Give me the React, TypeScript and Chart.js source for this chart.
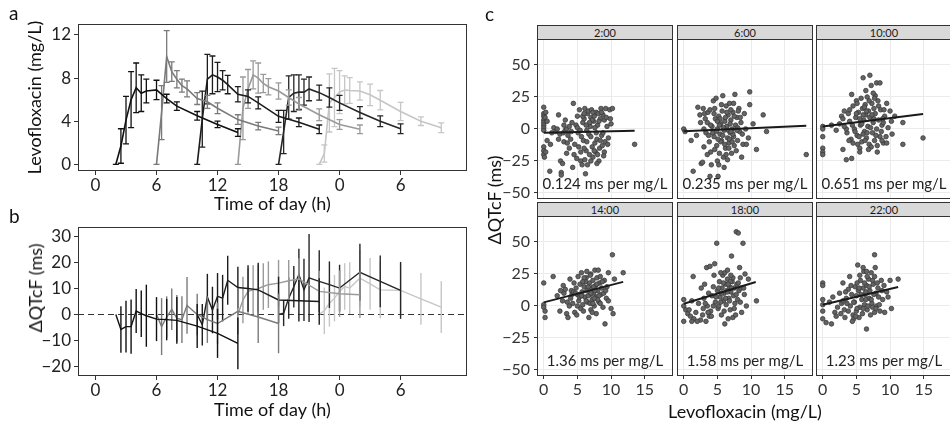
import React, { useEffect, useRef } from "react";
import { Chart, registerables } from "chart.js";
Chart.register(...registerables);

const FONT = "Lato, 'DejaVu Sans', sans-serif";

// ---------- panel a / b : time course ----------
const doseLabels = ["2:00", "6:00", "10:00", "14:00", "18:00", "22:00"];
const seriesColors = ["#111111", "#7a7a7a", "#1c1c1c", "#9a9a9a", "#262626", "#c6c6c6"];

const time2 = [2, 2.5, 3, 3.5, 4, 4.5, 5, 6, 7, 8, 10, 12, 14];
const time6 = [6, 6.5, 7, 7.5, 8, 8.5, 9, 10, 11, 12, 14, 16, 18];
const time10 = [10, 10.5, 11, 11.5, 12, 12.5, 13, 14, 15, 16, 18, 20, 22];
const time14 = [14, 14.5, 15, 15.5, 16, 16.5, 17, 18, 19, 20, 22, 24, 26];
const time18 = [18, 18.5, 19, 19.5, 20, 20.5, 21, 22, 23, 24, 26, 28, 30];
const time22 = [22, 22.5, 23, 23.5, 24, 24.5, 25, 26, 27, 28, 30, 32, 34];

const levo2 = [0, 1.7, 4.1, 6.0, 7.1, 6.6, 6.8, 6.9, 6.1, 5.4, 4.5, 3.7, 2.95];
const levo2Sd = [0, 1.6, 2.2, 2.6, 2.3, 1.7, 1.1, 0.9, 0.4, 0.4, 0.4, 0.3, 0.35];
const levo6 = [0, 4.8, 10.0, 8.6, 7.9, 7.3, 7.0, 6.1, 5.8, 5.2, 4.15, 3.55, 3.1];
const levo6Sd = [0, 2.5, 2.4, 0.9, 0.8, 0.6, 0.75, 0.55, 0.6, 0.5, 0.45, 0.35, 0.35];
const levo10 = [0, 4.2, 7.9, 8.3, 8.1, 7.8, 7.4, 6.5, 6.3, 5.7, 4.45, 3.9, 3.25];
const levo10Sd = [0, 2.6, 2.3, 1.75, 1.35, 0.9, 0.85, 0.7, 0.6, 0.55, 0.55, 0.4, 0.4];
const levo14 = [0, 5.2, 7.0, 8.3, 8.0, 7.5, 7.2, 6.8, 6.2, 5.6, 4.6, 3.7, 3.25];
const levo14Sd = [0, 2.9, 1.8, 1.3, 1.4, 0.85, 0.75, 0.75, 0.7, 0.6, 0.55, 0.45, 0.4];
const levo18 = [0, 3.0, 6.2, 6.6, 6.7, 6.7, 7.0, 6.65, 6.2, 5.7, 4.8, 4.0, 3.3];
const levo18Sd = [0, 2.0, 2.0, 1.7, 1.6, 1.2, 1.1, 0.7, 0.9, 0.7, 0.55, 0.5, 0.45];
const levo22 = [0, 1.0, 5.7, 6.2, 6.7, 6.9, 6.85, 6.8, 6.45, 5.95, 4.9, 4.0, 3.4];
const levo22Sd = [0, 0.8, 2.7, 2.7, 2.0, 1.3, 1.2, 0.85, 1.0, 0.9, 0.85, 0.4, 0.45];

const qt2 = [0, -5.8, -4.7, -4.7, 1.3, 0.3, -0.5, -1.8, -2.0, -2.3, -4.5, -7.3, -11.2];
const qt2Sd = [0, 9, 10, 10.5, 8.5, 9, 12, 8.5, 8, 9, 8.5, 9.5, 10];
const qt6 = [0, -4.7, -1, 2, -1.5, -2, 3.5, 0, -2, -3.5, 1.2, -1, -3.5];
const qt6Sd = [0, 11, 8, 8, 9, 9, 11, 8, 9, 8, 9, 10, 11.5];
const qt10 = [0, -4, 6.7, 1.7, 7, 6.3, 13.2, 10.4, 10, 9.5, 5.6, 5.3, 5.0];
const qt10Sd = [0, 8, 9, 9, 9, 9, 9.5, 8, 9, 10.5, 9, 8, 9];
const qt14 = [0, 5.6, 8.9, 9.5, 10, 10.8, 11.5, 12.1, 13, 13.7, 8.9, 8, 7.6];
const qt14Sd = [0, 9, 9, 9.5, 9, 9, 9, 9, 8, 8, 8, 9, 9];
const qt18 = [0, 0.5, 6.3, 10.7, 15.4, 9.5, 14.1, 12.8, 11.5, 10.2, 16.3, 12.8, 9.3];
const qt18Sd = [0, 5, 8, 8, 10, 12, 17, 12, 9, 9, 11, 10, 11];
const qt22 = [0, 1.4, 4.3, 6.3, 8.9, 10.8, 10.2, 14, 11.8, 9.5, 9.3, 6, 2.8];
const qt22Sd = [0, 9, 9, 9, 8, 9, 10, 11, 10, 11, 10, 10, 10];

const seriesTimes = [time2, time6, time10, time14, time18, time22];
const levoMeans = [levo2, levo6, levo10, levo14, levo18, levo22];
const levoSds = [levo2Sd, levo6Sd, levo10Sd, levo14Sd, levo18Sd, levo22Sd];
const qtMeans = [qt2, qt6, qt10, qt14, qt18, qt22];
const qtSds = [qt2Sd, qt6Sd, qt10Sd, qt14Sd, qt18Sd, qt22Sd];

const timeTicks = [0, 6, 12, 18, 24, 30];
const timeTickLabels = ["0", "6", "12", "18", "0", "6"];
const levoTicks = [0, 4, 8, 12];
const levoTickLabels = ["0", "4", "8", "12"];
const qtTimeTicks = [-20, -10, 0, 10, 20, 30];
const qtTimeTickLabels = ["\u221220", "\u221210", "0", "10", "20", "30"];

// ---------- panel c : exposure-response ----------
const facetTitles = ["2:00", "6:00", "10:00", "14:00", "18:00", "22:00"];
const slopes = [0.124, 0.235, 0.651, 1.36, 1.58, 1.23];
const intercepts = [-3, -1.8, 2, 2.8, 1.8, 1];
const fitEnds = [13.5, 18.2, 14.9, 11.8, 10.7, 11.2];
const concTicks = [0, 5, 10, 15];
const concTickLabels = ["0", "5", "10", "15"];
const qtTicks = [-50, -25, 0, 25, 50];
const qtTickLabels = ["\u221250", "\u221225", "0", "25", "50"];

const pts2 = [[0,17],[0,12],[0,10],[0,7],[0,5],[0,3],[0,1],[0,-1],[0,-14],[0,-17],[0,-20],[0.1,-22],[0.2,9],[0.3,13],[0.5,6],[0.3,-18],[0.9,-33],[1.5,1],[1.8,-2],[2.2,11],[2.4,-4],[2.6,-34],[2.6,-36],[2.5,-25],[2.8,-27],[2.9,-3],[3.2,-1],[3.4,0],[3.0,-10],[3.5,-11],[3.8,2],[3.6,-5],[4.1,-2],[4.4,20],[4.3,-30],[4.6,-12],[4.8,3],[5.0,1],[5.1,-3],[5.3,15],[5.5,-25],[5.6,-6],[5.8,5],[5.9,-9],[6.0,8],[6.1,16],[6.2,-35],[6.3,-17],[6.4,-1],[6.5,12],[6.6,14],[6.7,-4],[6.8,-20],[6.9,2],[7.0,9],[7.1,15],[7.2,-14],[7.3,-22],[7.4,6],[7.5,10],[7.6,-11],[7.7,-18],[7.8,13],[7.9,-8],[8.0,3],[8.1,12],[8.2,-25],[8.3,-15],[8.4,8],[8.5,16],[8.6,-5],[8.7,-13],[8.8,11],[9.0,7],[9.1,-10],[9.2,16],[9.4,2],[9.6,-7],[9.8,15],[10.2,16],[10.0,4],[13.5,-12],[6.0,-15],[7.0,-25],[5.5,-18],[4.0,-8],[3.2,7],[2.0,0],[1.2,-3],[6.5,-28],[7.5,-17],[8.0,-20],[5.8,10],[7.2,7],[8.8,-3],[9.5,-12],[3.8,-15],[4.5,-20],[5.2,-14],[6.4,-10],[7.0,-6],[7.8,-3],[8.4,-9],[9.0,-18],[5.0,10],[6.0,12],[7.3,13],[8.2,6],[9.3,9],[4.2,5],[3.0,3],[6.8,5],[7.6,1],[8.9,-21],[5.7,-28],[4.9,-23],[6.1,-24],[7.9,-27],[3.4,-19],[2.2,-8],[1.0,-12],[0.5,-9],[8.6,13],[9.9,8],[6.3,3],[5.4,-1]];
const pts6 = [[0,0],[0.2,-2],[1.1,-9],[1.4,-33],[1.9,-5],[2.1,17],[2.4,11],[2.6,-27],[2.8,-26],[2.9,16],[3.1,12],[3.3,-3],[3.5,5],[3.6,13],[3.8,-10],[3.9,15],[3.9,-37],[4.1,-28],[4.2,2],[4.4,22],[4.5,-6],[4.7,8],[4.8,24],[4.9,-13],[5.0,0],[5.1,-37],[5.2,10],[5.3,-19],[5.4,-4],[5.5,4],[5.6,-9],[5.7,14],[5.8,26],[5.9,-22],[6.0,-1],[6.1,6],[6.2,-15],[6.3,18],[6.4,2],[6.5,-7],[6.6,11],[6.7,-11],[6.8,20],[6.9,-3],[7.0,7],[7.1,-19],[7.2,0],[7.3,13],[7.4,-6],[7.6,27],[7.7,3],[7.8,-17],[7.9,9],[8.0,-9],[8.2,16],[8.3,-2],[8.5,5],[8.6,-22],[8.8,-12],[9.0,12],[9.2,0],[9.6,-7],[9.8,19],[9.8,29],[10.3,4],[10.8,-16],[11.8,11],[12.3,-2],[18.2,-20],[5.0,-25],[6.0,-30],[4.0,-18],[3.0,-14],[6.5,-24],[7.5,-13],[5.5,-10],[4.5,12],[6.2,9],[7.0,15],[5.8,-5],[6.8,-8],[4.8,-2],[5.3,3],[6.6,-1],[3.5,-20],[7.3,-4],[8.0,1],[3.2,8],[4.3,-3],[4.6,16],[5.1,-8],[5.6,19],[6.1,-12],[6.4,13],[6.9,4],[7.2,-10],[7.5,10],[7.9,-1],[8.4,9],[8.7,-4],[9.3,-12],[3.7,-5],[4.0,3],[5.4,8],[5.9,1],[6.7,-15],[7.4,20],[8.1,14],[4.6,-16],[5.2,-28],[3.0,0],[2.5,5],[6.3,-20],[7.0,-2],[5.0,6]];
const pts10 = [[0,2],[0,0],[0,-6],[0,-15],[0,-18],[0,-20],[1.3,3],[2.0,-1],[2.5,4],[2.8,10],[3.0,-16],[3.2,14],[3.5,-24],[3.6,-3],[3.8,12],[4.0,6],[4.2,-8],[4.3,27],[4.3,-23],[4.5,18],[4.7,0],[4.9,9],[5.0,22],[5.1,-5],[5.3,13],[5.5,-15],[5.5,-18],[5.6,3],[5.7,24],[5.8,-10],[5.9,16],[6.0,40],[6.1,7],[6.2,-2],[6.3,19],[6.4,11],[6.5,-7],[6.6,25],[6.7,2],[6.8,14],[6.9,-12],[7.0,42],[7.0,9],[7.2,34],[7.3,20],[7.4,-3],[7.5,5],[7.6,16],[7.7,-9],[7.8,12],[8.0,36],[8.0,0],[8.1,-18],[8.2,22],[8.3,7],[8.5,36],[8.5,-6],[8.6,15],[8.8,3],[9.0,-11],[9.2,10],[9.5,20],[9.5,-11],[9.7,1],[10.0,14],[10.3,-4],[10.7,10],[11.9,5],[11.9,-12],[14.9,-7],[3.0,8],[5.2,-12],[6.0,-4],[7.2,-14],[8.8,-9],[4.5,-11],[6.4,30],[7.8,26],[5.5,8],[9.0,5],[3.5,0],[6.8,-16],[7.5,28],[3.2,2],[4.0,15],[4.8,-2],[5.0,12],[5.4,-6],[6.2,17],[6.6,-3],[6.9,22],[7.1,1],[7.6,8],[7.9,-5],[8.3,18],[8.7,-2],[9.1,15],[9.4,-6],[6.0,11],[5.8,4],[7.3,11],[8.1,-13],[4.4,3],[6.5,14],[7.7,24],[5.1,20],[3.9,-9],[6.3,-9],[8.9,8],[10.2,6]];
const pts14 = [[0,1],[0,-1],[0,18],[0.2,-4],[0.2,-9],[1.4,23],[2.0,8],[2.4,-4],[2.8,4],[2.9,16],[3.0,10],[3.4,-6],[3.6,-9],[3.9,21],[4.0,6],[4.1,12],[4.3,2],[4.6,-5],[4.8,14],[4.9,-7],[5.0,9],[5.1,23],[5.2,4],[5.4,17],[5.6,26],[5.7,11],[5.8,1],[6.0,15],[6.1,7],[6.3,22],[6.4,12],[6.5,3],[6.7,-9],[6.8,18],[6.9,9],[7.0,25],[7.1,14],[7.2,5],[7.3,20],[7.4,10],[7.5,0],[7.6,28],[7.7,16],[7.8,7],[7.9,22],[8.0,12],[8.1,28],[8.2,3],[8.3,18],[8.5,9],[8.6,14],[8.8,-1],[9.0,20],[9.1,-14],[9.3,6],[9.6,26],[9.6,4],[10.0,-2],[10.2,40],[10.3,-6],[10.5,21],[11.8,26],[5.5,-2],[6.2,19],[7.0,-3],[3.2,13],[4.5,18],[6.6,8],[7.4,15],[8.4,23],[5.3,7],[6.9,2],[8.9,10],[7.8,-6],[4.2,9],[3.5,3],[4.4,11],[5.0,0],[5.6,8],[6.0,22],[6.3,4],[6.6,15],[7.0,10],[7.3,2],[7.6,12],[7.9,17],[8.2,8],[8.4,2],[8.7,19],[9.2,12],[5.8,19],[6.9,24],[7.2,-5],[8.0,5],[4.7,10],[5.9,-4],[6.4,27],[7.5,6],[9.4,15],[3.8,0],[2.5,12]];
const pts18 = [[0,0],[0,5],[0,-12],[0.3,-3],[0.6,-6],[1.0,-8],[1.2,4],[1.4,23],[1.5,-10],[1.8,-5],[2.2,2],[2.5,-11],[2.6,14],[2.8,-7],[3.0,6],[3.1,17],[3.3,-12],[3.4,30],[3.5,0],[3.7,10],[3.9,31],[4.0,-4],[4.2,8],[4.4,15],[4.6,33],[4.7,3],[4.9,49],[5.0,12],[5.1,-2],[5.3,19],[5.4,7],[5.6,-7],[5.7,14],[5.8,24],[5.9,4],[6.0,10],[6.1,26],[6.1,-14],[6.2,17],[6.3,1],[6.4,12],[6.5,21],[6.6,-10],[6.7,6],[6.8,15],[6.9,-3],[7.0,11],[7.1,39],[7.2,19],[7.3,-9],[7.4,8],[7.5,14],[7.6,2],[7.8,58],[7.9,17],[8.0,5],[8.1,57],[8.2,12],[8.3,30],[8.4,22],[8.5,14],[8.6,-5],[8.8,49],[9.0,9],[9.3,0],[9.6,21],[10.8,4],[2.0,-12],[3.8,-8],[4.5,24],[5.5,26],[6.5,28],[7.7,-7],[5.2,0],[6.9,19],[3.2,2],[4.1,-8],[4.8,7],[5.2,14],[5.5,3],[5.9,18],[6.2,6],[6.5,11],[6.8,4],[7.1,14],[7.3,22],[7.5,-2],[7.8,9],[8.1,18],[8.4,3],[8.9,14],[6.0,-4],[6.6,17],[7.0,24],[5.6,10],[4.4,0],[3.6,-5],[2.9,-2],[1.2,-12],[0.8,-3],[9.1,25]];
const pts22 = [[0,18],[0,16],[0,5],[0,1],[0,-4],[0,-10],[0.5,-13],[1.0,3],[1.3,-14],[1.5,7],[1.8,-5],[2.2,-1],[2.5,10],[2.8,2],[3.0,18],[3.2,-3],[3.3,-9],[3.5,6],[3.8,13],[4.0,23],[4.1,0],[4.3,9],[4.5,-7],[4.6,-10],[4.7,3],[4.8,15],[5.0,8],[5.0,-4],[5.2,32],[5.3,12],[5.5,-1],[5.6,20],[5.8,5],[5.9,-6],[6.0,14],[6.1,27],[6.2,1],[6.3,9],[6.5,27],[6.5,-18],[6.5,16],[6.6,-3],[6.8,21],[6.9,6],[7.0,12],[7.1,-7],[7.2,26],[7.3,2],[7.5,17],[7.7,40],[7.7,23],[7.7,-5],[7.9,10],[8.0,0],[8.2,14],[8.5,-4],[8.7,20],[8.9,5],[9.2,-5],[9.5,11],[9.7,7],[10.0,20],[10.2,-2],[11.2,21],[4.4,-12],[5.4,-9],[6.4,5],[3.6,2],[7.4,-1],[8.3,7],[2.0,-8],[6.0,30],[5.1,18],[3.0,4],[3.8,-4],[4.2,16],[4.6,3],[5.1,-2],[5.4,14],[5.7,9],[6.0,-2],[6.2,18],[6.4,11],[6.7,0],[6.9,15],[7.2,5],[7.4,20],[7.6,9],[7.9,-2],[8.1,18],[8.4,1],[8.8,12],[9.1,16],[5.5,24],[4.9,-8],[6.6,23],[7.8,30],[3.4,11],[2.7,-6]];
const facetPoints = [pts2, pts6, pts10, pts14, pts18, pts22];

// ---------- plugins ----------
const framePlugin = {
  id: "frame",
  afterDraw(chart: any, _a: any, opts: any) {
    const { ctx, chartArea } = chart;
    const l = Math.round(chartArea.left), t = Math.round(chartArea.top);
    const r = Math.round(chartArea.right), b = Math.round(chartArea.bottom);
    ctx.save();
    ctx.strokeStyle = opts.color || "#333";
    ctx.lineWidth = 1;
    ctx.strokeRect(l + 0.5, t + 0.5, r - l - 1, b - t - 1);
    ctx.restore();
  },
};

const errorBarPlugin = {
  id: "errbars",
  afterDatasetDraw(chart: any, args: any, opts: any) {
    const ds = chart.data.datasets[args.index];
    if (!ds.errors) return;
    const ys = chart.scales.y;
    const { ctx } = chart;
    const cap = opts.cap || 0;
    ctx.save();
    ctx.strokeStyle = ds.borderColor;
    ctx.lineWidth = opts.width || 1;
    args.meta.data.forEach((pt: any, j: number) => {
      const v = ds.data[j].y;
      const e = ds.errors[j];
      const x = pt.x;
      const y1 = ys.getPixelForValue(v - e);
      const y2 = ys.getPixelForValue(v + e);
      ctx.beginPath();
      ctx.moveTo(x, y1);
      ctx.lineTo(x, y2);
      if (cap) {
        ctx.moveTo(x - cap, y1);
        ctx.lineTo(x + cap, y1);
        ctx.moveTo(x - cap, y2);
        ctx.lineTo(x + cap, y2);
      }
      ctx.stroke();
    });
    ctx.restore();
  },
};

const refLinePlugin = {
  id: "refline",
  beforeDatasetsDraw(chart: any, _a: any, opts: any) {
    if (opts.value === undefined) return;
    const { ctx, chartArea } = chart;
    const y = Math.round(chart.scales.y.getPixelForValue(opts.value)) + 0.5;
    ctx.save();
    ctx.strokeStyle = "#333";
    ctx.lineWidth = 1.2;
    ctx.setLineDash([6, 4]);
    ctx.beginPath();
    ctx.moveTo(chartArea.left, y);
    ctx.lineTo(chartArea.right, y);
    ctx.stroke();
    ctx.restore();
  },
};

const noteTextPlugin = {
  id: "note",
  afterDatasetsDraw(chart: any, _a: any, opts: any) {
    if (!opts.text) return;
    const { ctx, chartArea } = chart;
    const y = chart.scales.y.getPixelForValue(opts.value);
    ctx.save();
    ctx.fillStyle = "#222";
    ctx.font = `15px ${FONT}`;
    ctx.textAlign = "center";
    ctx.textBaseline = "middle";
    ctx.fillText(opts.text, (chartArea.left + chartArea.right) / 2, y);
    ctx.restore();
  },
};

function setTicks(values: number[]) {
  return (scale: any) => {
    scale.ticks = values.map((v) => ({ value: v }));
  };
}
function labelFor(values: number[], labels: string[]) {
  return (v: any) => labels[values.indexOf(Number(v))] ?? "";
}
function fixSize(prop: "width" | "height", size: number) {
  return (s: any) => {
    s[prop] = size;
    s.paddingTop = 0;
    s.paddingBottom = 0;
    s.paddingLeft = 0;
    s.paddingRight = 0;
  };
}

// ---------- configs ----------
function timeCourseConfig(which: "a" | "b"): any {
  const means = which === "a" ? levoMeans : qtMeans;
  const sds = which === "a" ? levoSds : qtSds;
  const yTicks = which === "a" ? levoTicks : qtTimeTicks;
  const yLabels = which === "a" ? levoTickLabels : qtTimeTickLabels;
  const datasets = doseLabels.map((lab, i) => ({
    label: lab,
    data: seriesTimes[i].map((t, j) => ({ x: t, y: means[i][j] })),
    errors: sds[i],
    borderColor: seriesColors[i],
    backgroundColor: seriesColors[i],
    borderWidth: which === "a" ? 1.6 : 1.4,
    pointRadius: 0,
    tension: 0,
  }));
  const tickFont = { family: FONT, size: 17 };
  const titleFont = { family: FONT, size: 18 };
  return {
    type: "line",
    data: { datasets },
    plugins: [framePlugin, errorBarPlugin, refLinePlugin],
    options: {
      animation: false,
      responsive: false,
      events: [],
      layout: { autoPadding: false, padding: { left: 0, top: which === "a" ? 24 : 12, right: 13, bottom: 0 } },
      plugins: {
        legend: { display: false },
        tooltip: { enabled: false },
        frame: { color: "#333" },
        errbars: { cap: which === "a" ? 3 : 0, width: which === "a" ? 1.3 : 1.4 },
        refline: which === "b" ? { value: 0 } : {},
      },
      scales: {
        x: {
          type: "linear",
          min: -1.72,
          max: 36.53,
          afterBuildTicks: setTicks(timeTicks),
          afterFit: fixSize("height", which === "a" ? 44 : 45),
          ticks: { callback: labelFor(timeTicks, timeTickLabels), font: tickFont, color: "#222", padding: 0, maxRotation: 0, autoSkip: false },
          grid: { drawOnChartArea: false, drawTicks: true, tickLength: 4, tickColor: "#333", color: "#333" },
          border: { display: false },
          title: { display: true, text: "Time of day (h)", font: titleFont, color: "#111", padding: { top: 0, bottom: 0 } },
        },
        y: {
          type: "linear",
          min: which === "a" ? -0.62 : -23.8,
          max: which === "a" ? 13.02 : 33.8,
          afterBuildTicks: setTicks(yTicks),
          afterFit: fixSize("width", 78),
          ticks: { callback: labelFor(yTicks, yLabels), font: tickFont, color: "#222", padding: 3, autoSkip: false },
          grid: { drawOnChartArea: false, drawTicks: true, tickLength: 4, tickColor: "#333", color: "#333" },
          border: { display: false },
          title: {
            display: which === "a",
            text: "Levofloxacin (mg/L)",
            font: titleFont,
            color: "#111",
            padding: { top: 24, bottom: 0 },
          },
        },
      },
    },
  };
}

function facetConfig(i: number, showY: boolean, showX: boolean): any {
  const tickFont = { family: FONT, size: 16 };
  return {
    type: "scatter",
    data: {
      datasets: [
        {
          type: "line",
          label: "fit",
          data: [
            { x: 0, y: intercepts[i] },
            { x: fitEnds[i], y: intercepts[i] + slopes[i] * fitEnds[i] },
          ],
          borderColor: "#1a1a1a",
          borderWidth: 2,
          pointRadius: 0,
        },
        {
          label: facetTitles[i],
          data: facetPoints[i].map(([x, y]) => ({ x, y })),
          backgroundColor: "#646464",
          borderColor: "#3a3a3a",
          borderWidth: 0.8,
          pointRadius: 2.3,
        },
      ],
    },
    plugins: [framePlugin, noteTextPlugin],
    options: {
      animation: false,
      responsive: false,
      events: [],
      layout: { autoPadding: false, padding: 0 },
      plugins: {
        legend: { display: false },
        tooltip: { enabled: false },
        frame: { color: "#333" },
        note: { text: `${slopes[i]} ms per mg/L`, value: -43 },
      },
      scales: {
        x: {
          type: "linear",
          min: -1.0,
          max: 19.2,
          afterBuildTicks: setTicks(concTicks),
          afterFit: fixSize("height", showX ? 26 : 0),
          ticks: { display: showX, callback: labelFor(concTicks, concTickLabels), font: tickFont, color: "#333", padding: 1, maxRotation: 0, autoSkip: false },
          grid: { color: "#ebebeb", lineWidth: 1, drawTicks: showX, tickLength: 3, tickColor: "#333" },
          border: { display: false },
        },
        y: {
          type: "linear",
          min: -54.7,
          max: 70.3,
          afterBuildTicks: setTicks(qtTicks),
          afterFit: fixSize("width", showY ? 40 : 0),
          ticks: { display: showY, callback: labelFor(qtTicks, qtTickLabels), font: tickFont, color: "#333", padding: 4, autoSkip: false },
          grid: { color: "#ebebeb", lineWidth: 1, drawTicks: showY, tickLength: 3, tickColor: "#333" },
          border: { display: false },
        },
      },
    },
  };
}

function ChartCanvas(props: { make: () => any; left: number; top: number; width: number; height: number }) {
  const ref = useRef<HTMLCanvasElement>(null);
  useEffect(() => {
    const chart = new Chart(ref.current as HTMLCanvasElement, props.make());
    return () => chart.destroy();
  }, []);
  return (
    <canvas
      ref={ref}
      width={props.width}
      height={props.height}
      style={{ position: "absolute", left: props.left, top: props.top, width: props.width, height: props.height }}
    />
  );
}

const colLefts = [537, 677, 816];
const rowTops = [39, 216];
const PANEL_W = 136;
const PANEL_H = 160;
const STRIP_H = 14;

function VTitle(props: { text: string; x: number; y: number }) {
  return (
    <div
      style={{
        position: "absolute",
        left: props.x,
        top: props.y,
        transform: "translate(-50%, -50%) rotate(-90deg)",
        whiteSpace: "nowrap",
        font: `18px ${FONT}`,
        color: "#111",
      }}
    >
      {props.text}
    </div>
  );
}

export default function App() {
  const facets: any[] = [];
  for (let r = 0; r < 2; r++) {
    for (let c = 0; c < 3; c++) {
      const i = r * 3 + c;
      const showY = c === 0;
      const showX = r === 1;
      const yW = showY ? 40 : 0;
      const xH = showX ? 26 : 0;
      facets.push(
        <ChartCanvas
          key={"f" + i}
          make={() => facetConfig(i, showY, showX)}
          left={colLefts[c] - yW}
          top={rowTops[r]}
          width={PANEL_W + yW}
          height={PANEL_H + xH}
        />
      );
      facets.push(
        <div
          key={"s" + i}
          style={{
            position: "absolute",
            left: colLefts[c],
            top: rowTops[r] - STRIP_H,
            width: PANEL_W,
            height: STRIP_H + 1,
            boxSizing: "border-box",
            border: "1px solid #333",
            background: "#d9d9d9",
            color: "#1a1a1a",
            font: `11px ${FONT}`,
            lineHeight: `${STRIP_H - 1}px`,
            textAlign: "center",
          }}
        >
          {facetTitles[i]}
        </div>
      );
    }
  }
  const lab = (t: string, left: number, top: number) => (
    <div style={{ position: "absolute", left, top, font: `19px ${FONT}`, color: "#111", lineHeight: "19px" }}>{t}</div>
  );
  return (
    <div style={{ position: "absolute", left: 0, top: 0, width: 950, height: 421, overflow: "hidden", background: "#fff" }}>
      <ChartCanvas make={() => timeCourseConfig("a")} left={0} top={0} width={480} height={215} />
      <ChartCanvas make={() => timeCourseConfig("b")} left={0} top={215} width={480} height={206} />
      {facets}
      <VTitle text={"\u0394QTcF (ms)"} x={35} y={288} />
      <VTitle text={"\u0394QTcF (ms)"} x={494} y={200} />
      <div
        style={{
          position: "absolute",
          left: 745,
          top: 411,
          transform: "translate(-50%, -50%)",
          whiteSpace: "nowrap",
          font: `18px ${FONT}`,
          color: "#111",
        }}
      >
        Levofloxacin (mg/L)
      </div>
      {lab("a", 9, 3)}
      {lab("b", 9, 206)}
      {lab("c", 485, 4)}
    </div>
  );
}
